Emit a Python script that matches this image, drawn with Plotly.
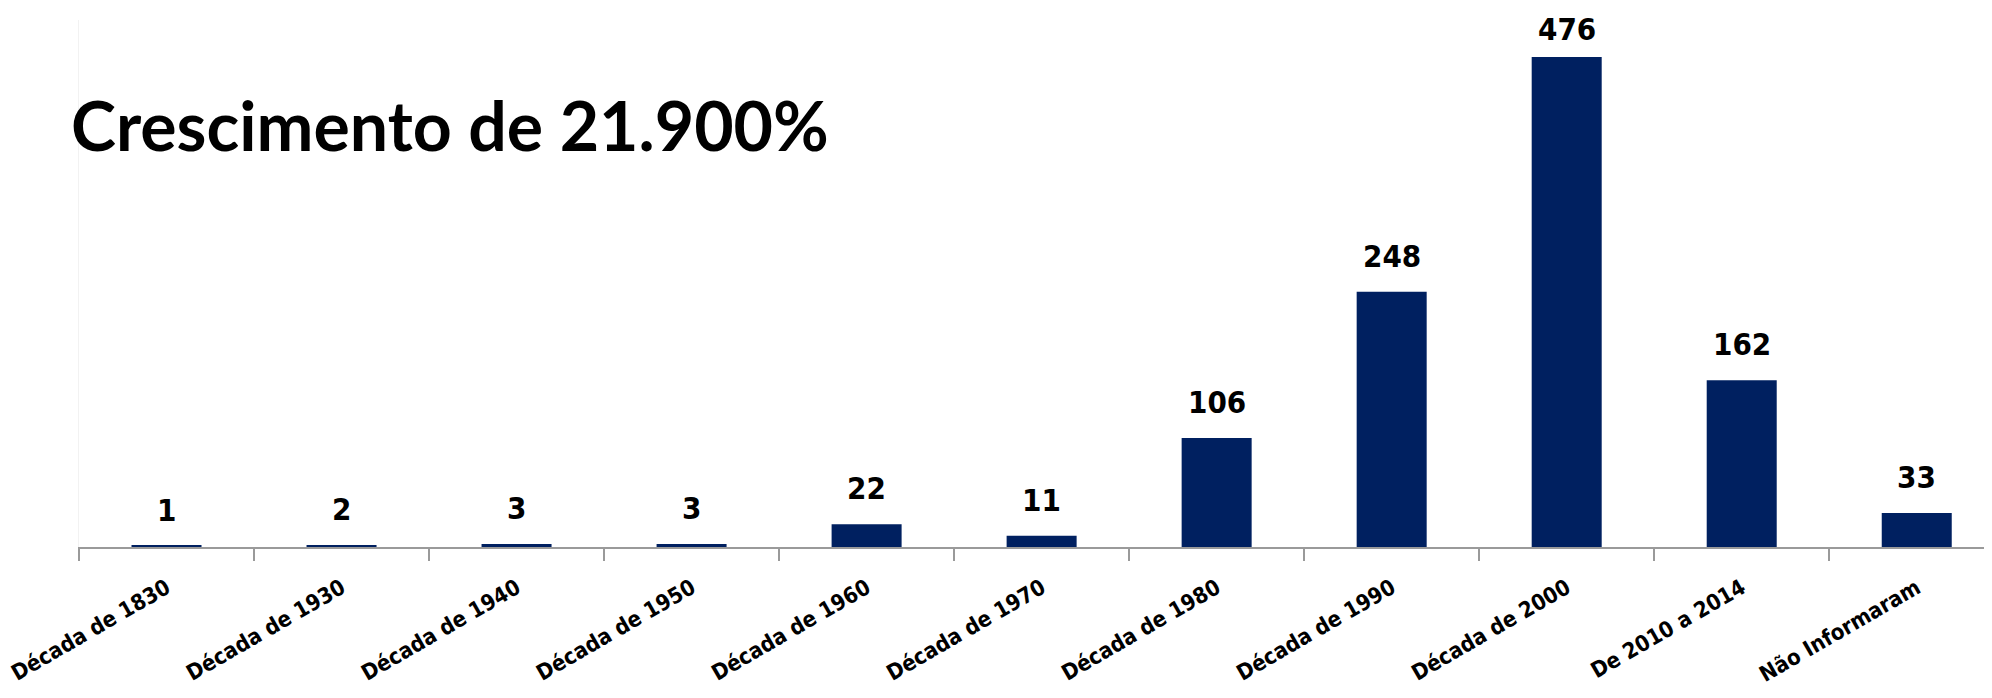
import plotly.graph_objects as go

categories = ["Década de 1830", "Década de 1930", "Década de 1940", "Década de 1950",
              "Década de 1960", "Década de 1970", "Década de 1980", "Década de 1990",
              "Década de 2000", "De 2010 a 2014", "Não Informaram"]
values = [1, 2, 3, 3, 22, 11, 106, 248, 476, 162, 33]
title_text = "Crescimento de 21.900%"

BAR_COLOR = "#002060"
LABEL_FONT = "DejaVu Sans Condensed"

# page body has an 8px margin; figure sized to fit the window exactly
PW, PH = 1913, 527  # plot area size in px
PLOT_LEFT, PLOT_TOP = 79, 20  # page coordinates of plot area
Y_MAX = 512

fig = go.Figure()
fig.add_trace(go.Bar(
    x=categories, y=values,
    marker=dict(color=BAR_COLOR, line=dict(width=0)),
    hoverinfo="x+y",
))

for c, v in zip(categories, values):
    # labels close to the top edge sit a bit tighter to the bar
    shift = 8 if v > 0.85 * Y_MAX else 16
    fig.add_annotation(
        x=c, y=v, xref="x", yref="y",
        text=str(v), showarrow=False,
        yanchor="bottom", yshift=shift,
        font=dict(family=LABEL_FONT, size=31, color="#000000", weight="bold"),
    )

fig.add_annotation(
    xref="paper", yref="paper", text=title_text, showarrow=False,
    x=(69 - PLOT_LEFT) / PW, y=1 - (82 - PLOT_TOP) / PH, xanchor="left", yanchor="top",
    font=dict(family="Lato", size=68, color="#000000", weight="bold"),
)

fig.update_layout(
    width=1984, height=690,
    margin=dict(l=71, r=0, t=12, b=151, pad=0),
    paper_bgcolor="white", plot_bgcolor="white",
    bargap=0.6, showlegend=False,
    xaxis=dict(
        type="category", range=[-0.5, 10.43],
        showline=True, linecolor="#9a9a9a", linewidth=1.5,
        ticks="outside", tickson="boundaries", ticklen=12, tickcolor="#9a9a9a", tickwidth=1.5,
        tickangle=-30, showgrid=False, zeroline=False,
        tickfont=dict(family=LABEL_FONT, size=22, color="#000000", weight="bold"),
        ticklabelstandoff=18,
    ),
    yaxis=dict(
        range=[0, Y_MAX], showgrid=False, zeroline=False, showticklabels=False,
        showline=True, linecolor="#f2f2f2", linewidth=1, ticks="",
    ),
)

fig.write_html("out.html")
